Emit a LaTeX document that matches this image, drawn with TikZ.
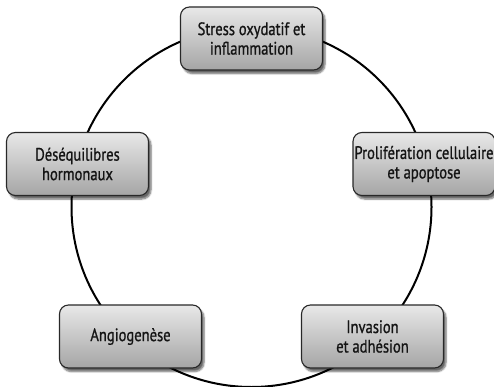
\documentclass[tikz,border=0pt]{standalone}
\usepackage{fontspec}
\usetikzlibrary{shadows.blur}
\newfontfamily\measurefont{PT Sans}
\setbox0\hbox{\measurefont\fontsize{18}{19}\selectfont Prolifération cellulaire}
\pgfmathsetmacro\strfac{139/\the\wd0}
\edef\doloadfont{\noexpand\newfontfamily\noexpand\boxfont{PT Sans}[FakeStretch=\strfac,FakeBold=0.9]}
\doloadfont
\definecolor{boxtop}{RGB}{232,232,232}
\definecolor{boxbot}{RGB}{165,165,165}
\definecolor{boxline}{RGB}{40,40,40}
\definecolor{txt}{RGB}{20,20,20}
\begin{document}
\begin{tikzpicture}[x=1pt,y=-1pt,
  box/.style={draw=boxline, line width=1.1pt, rounded corners=9pt,
    top color=boxtop, bottom color=boxbot,
    minimum width=142pt, minimum height=63pt, inner xsep=0pt,
    align=center, text=txt,
    font=\boxfont\fontsize{18}{19.5}\selectfont,
    blur shadow={shadow xshift=2.5pt, shadow yshift=-3.5pt, shadow blur steps=6, shadow opacity=60}},
  ring/.style={draw=black, line width=2pt}]
\useasboundingbox (0,0) rectangle (494,387);
\coordinate (c) at (251.5,207);
\draw[ring] (c) circle[radius=180pt];
\node[box] (stress) at (251.5,38.5) {Stress oxydatif et\\inflammation};
\node[box] (prolif) at (424,164) {Prolifération cellulaire\\et apoptose};
\node[box] (invas) at (372.5,336.5) {Invasion\\et adhésion};
\node[box] (angio) at (130.5,336.5) {Angiogenèse};
\node[box] (deseq) at (77.5,164) {Déséquilibres\\hormonaux};
\end{tikzpicture}
\end{document}
